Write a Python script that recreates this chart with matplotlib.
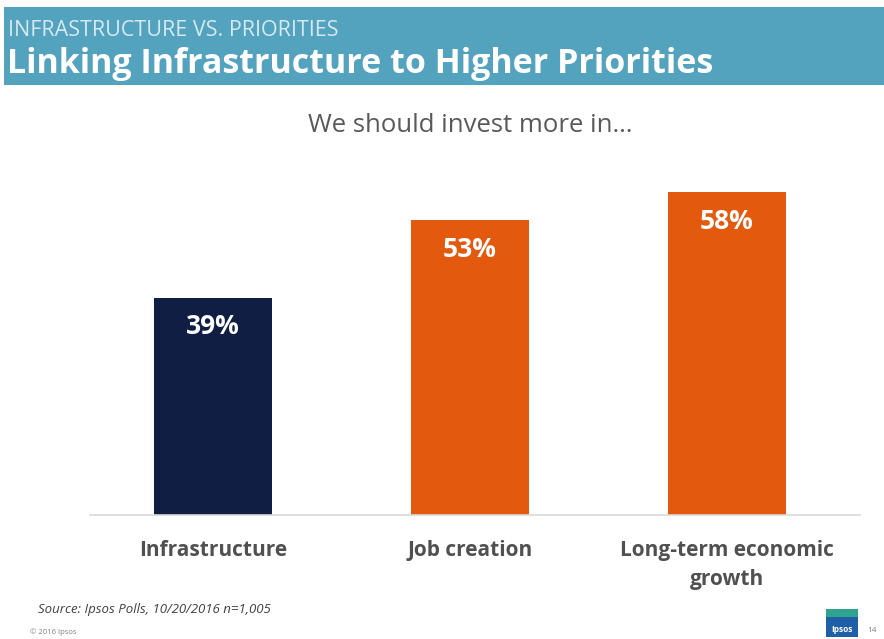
import matplotlib.pyplot as plt
from matplotlib.patches import Rectangle
import numpy as np

# survey results: "We should invest more in..."
categories = ['Infrastructure', 'Job creation', 'Long-term economic\ngrowth']
values = [39, 53, 58]
bar_colors = ['#0F1E42', '#E35A0F', '#E35A0F']

plt.rcParams['font.family'] = ['Open Sans', 'DejaVu Sans']

fig = plt.figure(figsize=(8.84, 6.39), dpi=100)
fig.patch.set_facecolor('white')

# header band
fig.patches.append(Rectangle((4 / 884, 1 - 85 / 639), 880 / 884, 78 / 639,
                             transform=fig.transFigure, facecolor='#53A3BF',
                             edgecolor='none', zorder=0))
fig.text(8 / 884, 1 - 31 / 639, 'INFRASTRUCTURE VS. PRIORITIES', color='#D6E9F0',
         fontsize=15.5, va='center', ha='left')
fig.text(7 / 884, 1 - 64 / 639, 'Linking Infrastructure to Higher Priorities',
         color='white', fontsize=24.5, fontweight='bold', va='center', ha='left')

fig.text(470 / 884, 1 - 125 / 639, 'We should invest more in\u2026', color='#595959',
         fontsize=18.5, va='center', ha='center')

ax = fig.add_axes([90 / 884, 1 - 515 / 639, 770 / 884, 356 / 639])
x = np.arange(len(categories))
bars = ax.bar(x, values, width=0.46, color=bar_colors)
ax.set_xlim(-0.48, 2.52)
ax.set_ylim(0, 64)

for b, v in zip(bars, values):
    ax.text(b.get_x() + b.get_width() / 2, v - 5.2, f'{v}%', color='white',
            fontsize=19, fontweight='bold', ha='center', va='center')

ax.set_xticks(x)
ax.set_xticklabels(categories, fontsize=15, fontweight='bold', color='#505050',
                   linespacing=1.5)
ax.tick_params(axis='x', length=0, pad=18)
ax.set_yticks([])
for s in ['top', 'right', 'left']:
    ax.spines[s].set_visible(False)
ax.spines['bottom'].set_color('#D9D9D9')
ax.spines['bottom'].set_linewidth(1.2)

# footer
fig.text(38 / 884, 1 - 610 / 639, 'Source: Ipsos Polls, 10/20/2016 n=1,005',
         color='#404040', fontsize=9.5, style='italic', va='center', ha='left')
fig.text(30 / 884, 1 - 632 / 639, '\u00a9 2016 Ipsos', color='#7F7F7F',
         fontsize=5.5, va='center', ha='left')

# logo block
fig.patches.append(Rectangle((826 / 884, 1 - 637 / 639), 32 / 884, 28 / 639,
                             transform=fig.transFigure, facecolor='#1F5FA8',
                             edgecolor='none'))
fig.patches.append(Rectangle((826 / 884, 1 - 617 / 639), 32 / 884, 8 / 639,
                             transform=fig.transFigure, facecolor='#2FA38E',
                             edgecolor='none'))
fig.text(842 / 884, 1 - 630 / 639, 'Ipsos', color='white', fontsize=6,
         fontweight='bold', va='center', ha='center')
fig.text(872 / 884, 1 - 630 / 639, '14', color='#7F7F7F', fontsize=6,
         va='center', ha='center')

fig.savefig('out.png', dpi=100)
